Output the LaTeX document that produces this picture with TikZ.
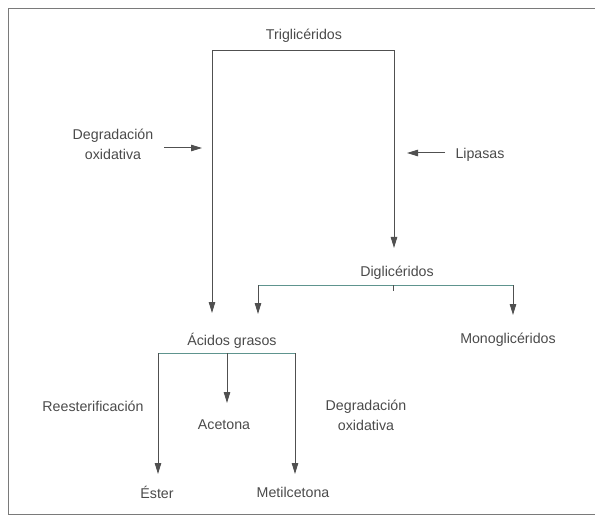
\documentclass[tikz,border=0pt]{standalone}
\usepackage{fontspec}
\setmainfont{Liberation Sans}
\usetikzlibrary{arrows.meta,positioning,calc}
\definecolor{ink}{HTML}{4A4A4A}
\definecolor{linecol}{HTML}{505050}
\definecolor{barcol}{HTML}{5E948E}
\definecolor{framecol}{HTML}{7A7A7A}

\begin{document}
\begin{tikzpicture}[x=1pt, y=-1pt,
  font=\fontsize{14.2}{20}\selectfont, line join=miter,
  lbl/.style={text=ink, inner sep=1pt, align=center},
  tip/.style={-{Triangle[length=11pt,width=6.5pt]}},
  flow/.style={tip, linecol, line width=1pt},
  split/.style={{Triangle[length=11pt,width=6.5pt]}-{Triangle[length=11pt,width=6.5pt]},
                linecol, line width=1pt}]
\useasboundingbox (0,0) rectangle (595,516);

% ================================================================ frame
\draw[framecol, line width=1pt] (595,9) -- (8,9) -- (8,514) -- (595,514);

% ================================================================ nodes
\node[lbl] (trig)   at (304,36)  {Triglicéridos};
\node[lbl] (digl)   at (397,273) {Diglicéridos};
\node[lbl] (acid)   at (232,341) {Ácidos grasos};
\node[lbl] (mono)   at (508,340) {Monoglicéridos};
\node[lbl] (acet)   at (224,425) {Acetona};
\node[lbl] (ester)  at (157,492) {Éster};
\node[lbl] (metil)  at (293,492) {Metilcetona};
\node[lbl] (degox)  at (113,144) {Degradación\\oxidativa};
\node[lbl] (lipa)   at (480,155) {Lipasas};
\node[lbl] (reest)  at (93,406)  {Reesterificación};
\node[lbl] (degoxb) at (366,415) {Degradación\\oxidativa};

% ================================================================ junctions
\coordinate (tl) at (212,51);  \coordinate (tr) at (394,51);
\coordinate (tlb) at (212,313); \coordinate (trb) at (394,248);
\coordinate (dl) at (258,285); \coordinate (dr) at (513,285);
\coordinate (dlb) at (258,314); \coordinate (drb) at (513,315);
\coordinate (dm) at (393,285); \coordinate (dmb) at (393,291);
\coordinate (al) at (158,353); \coordinate (ar) at (295,353);
\coordinate (am) at (227,353);
\coordinate (alb) at (158,474); \coordinate (arb) at (295,474);
\coordinate (amb) at (227,403);
\coordinate (ox1) at (164,148); \coordinate (ox2) at (202,148);
\coordinate (lp1) at (445,153); \coordinate (lp2) at (407,153);

% ================================================================ triglicéridos
\draw[split] (tlb) -- (tl) -- (tr) -- (trb);
\draw[flow] (ox1) -- (ox2);
\draw[flow] (lp1) -- (lp2);

% ================================================================ diglicéridos
\draw[split] (dlb) -- (dl) -- (dr) -- (drb);
\draw[barcol, line width=1pt] ([xshift=0.5pt]dl) -- ([xshift=-0.5pt]dr);
\draw[linecol, line width=0.7pt] (dm) -- (dmb);

% ================================================================ ácidos grasos
\draw[split] (alb) -- (al) -- (ar) -- (arb);
\draw[barcol, line width=1pt] ([xshift=0.5pt]al) -- ([xshift=-0.5pt]ar);
\draw[flow] (am) -- (amb);

\end{tikzpicture}
\end{document}
